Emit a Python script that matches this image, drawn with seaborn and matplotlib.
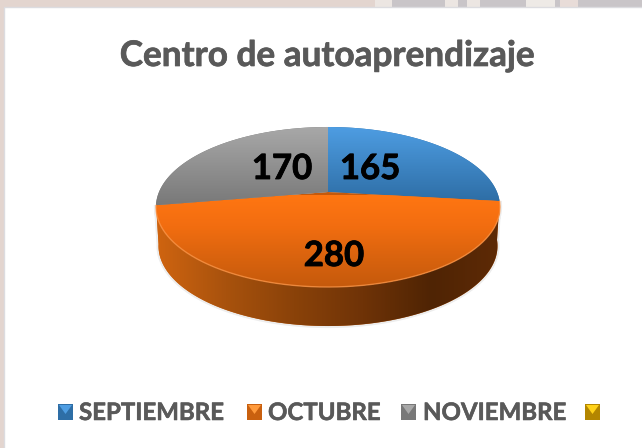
import numpy as np
import seaborn as sns
import matplotlib.pyplot as plt
import matplotlib.patheffects as pe
from matplotlib.patches import Polygon, Rectangle

# data
title = 'Centro de autoaprendizaje'
months = ['SEPTIEMBRE', 'OCTUBRE', 'NOVIEMBRE', '']
values = [165, 280, 170]

# light / dark ends of each colour
blues = ['#4e9de2', '#2e6ea6']
oranges = ['#ff7612', '#f26d10', '#d9630e', '#c4590c']
greys = ['#a8a8a8', '#787878']
yellows = ['#ffd21a', '#b38600']
side_colors = ['#cf6410', '#a8520d', '#8a4209', '#6f3307', '#4f2404', '#5e2a06']

sns.set_theme(style='white')
plt.rcParams['font.family'] = ['Lato', 'DejaVu Sans']

fig = plt.figure(figsize=(6.42, 4.48), dpi=100, facecolor='#e3d5cf')
ax = fig.add_axes([0, 0, 1, 1])

# pie gives the angles, then they get tilted into the 3D look
wedges, _ = ax.pie(values, startangle=90, counterclock=False, colors=[blues[1], oranges[0], greys[1]])
ax.set_aspect('auto')
ax.set_xlim(0, 642)
ax.set_ylim(448, 0)
ax.set_frame_on(False)


def project(theta, r=1.0):
    x = r * np.cos(np.radians(theta))
    y = r * np.sin(np.radians(theta))
    w = 1 + 0.1875 * y
    return 328 + 169 * x / w, 192 - 77.2 * y / w


def gradient(colors, extent, clip, horizontal=False, n=256):
    cmap = sns.blend_palette(colors, as_cmap=True)
    g = np.linspace(0, 1, n)
    g = g[None, :] if horizontal else g[:, None]
    # extent runs top to bottom, so the first colour sits on top
    im = ax.imshow(g, cmap=cmap, extent=extent, origin='upper', aspect='auto', zorder=clip.get_zorder(), interpolation='bilinear')
    im.set_clip_path(clip)


# top-right background strip
ax.add_patch(Rectangle((375, 0), 267, 7, color='#c9c5c8', zorder=1, lw=0))
for x0, x1, c in [(375, 392, '#ece6e2'), (445, 458, '#ece6e2'), (467, 480, '#ece6e2'), (526, 555, '#eeeae6'), (560, 578, '#e8dcd8')]:
    ax.add_patch(Rectangle((x0, 0), x1 - x0, 7, color=c, zorder=1, lw=0))
ax.add_patch(Rectangle((4, 7), 640, 443, facecolor='white', edgecolor='#dcdce0', lw=1, zorder=2))

# side wall under the orange slice
w = wedges[1]
arc = np.linspace(w.theta1, w.theta2, 200)
ax_, ay_ = project(arc)
bx = 328 + (ax_ - 328) * 0.985
by = ay_ + 39
side_pts = np.r_[np.c_[ax_, ay_], np.c_[bx, by][::-1]]
ax.add_patch(Polygon(side_pts, closed=True, fill=False, edgecolor='#000000', alpha=0.07, lw=3, zorder=3))
side = Polygon(side_pts, closed=True, color=side_colors[0], lw=0, zorder=4)
ax.add_patch(side)
gradient(side_colors, [157, 500, 330, 190], side, horizontal=True)

# top surface, one slice at a time
styles = [(blues, 127, 201), (oranges, 195, 289), (greys, 127, 206)]
for wedge, (cols, top, bottom) in zip(wedges, styles):
    wedge.set_visible(False)
    th = np.linspace(wedge.theta1, wedge.theta2, 200)
    px, py = project(th)
    slice_pts = np.r_[[[328, 192]], np.c_[px, py]]
    patch = Polygon(slice_pts, closed=True, color=cols[-1], lw=0, zorder=5)
    ax.add_patch(patch)
    gradient(cols, [150, 505, bottom, top], patch)

# light rim along the front edge
ax.plot(ax_, ay_, color='#ff9a4d', lw=1, alpha=0.7, zorder=6)

ax.set_xlim(0, 642)
ax.set_ylim(448, 0)

ax.text(327, 66, title, ha='center', va='baseline', fontsize=25.3, fontweight='bold', color='#595959', zorder=8,
        path_effects=[pe.withStroke(linewidth=0.5, foreground='#595959')])

# data labels
label_pos = [(370, 179), (334, 266), (282, 179)]
for (lx, ly), v in zip(label_pos, values):
    ax.text(lx, ly, str(v), ha='center', va='baseline', fontsize=25, fontweight='bold', color='black', zorder=8,
            path_effects=[pe.withStroke(linewidth=0.6, foreground='black')])

# legend
swatch_x = [58, 247, 401, 585]
text_x = [79, 268, 423, 0]
swatch_cols = [blues, ['#ff9a3c', '#c9600f'], greys, yellows]
for name, sx, tx, cols in zip(months, swatch_x, text_x, swatch_cols):
    sq = Rectangle((sx, 404), 15, 16, color=cols[1], lw=0, zorder=7)
    ax.add_patch(sq)
    ax.add_patch(Polygon([(sx + 1, 405), (sx + 14, 405), (sx + 7.5, 414)], closed=True, color=cols[0], lw=0, zorder=8))
    if name:
        ax.text(tx, 420, name, ha='left', va='baseline', fontsize=17.3, fontweight='bold', color='#595959', zorder=8,
                path_effects=[pe.withStroke(linewidth=0.4, foreground='#595959')])

ax.set_xticks([])
ax.set_yticks([])
fig.savefig('out.png', dpi=100, facecolor=fig.get_facecolor())
